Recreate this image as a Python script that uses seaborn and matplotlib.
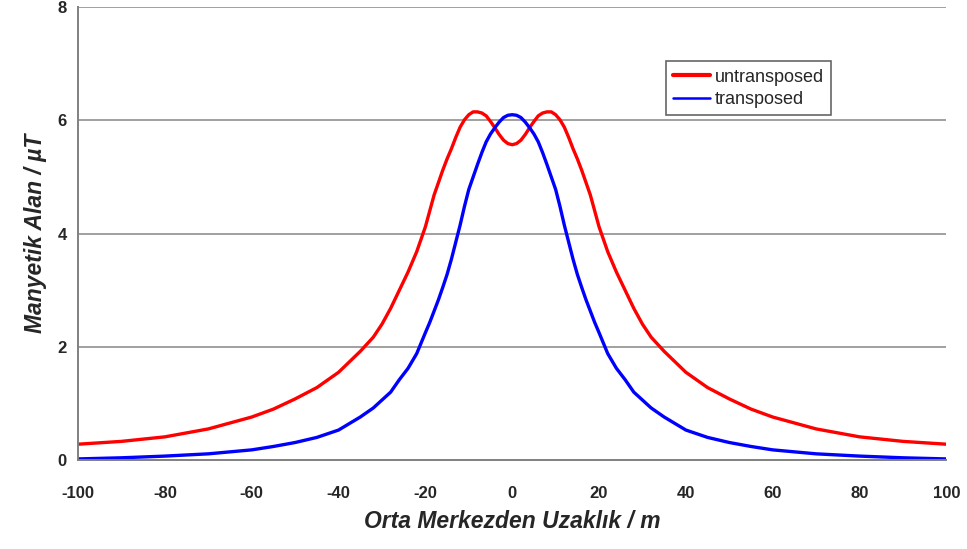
import pandas as pd
from matplotlib import pyplot as plt
import seaborn as sns

# distance from centre (one side, mirrored below)
half_x = [0, 1, 2, 3, 4, 5, 6, 7, 8, 9, 10, 11, 12, 13, 14, 15, 16, 17, 18, 19,
          20, 22, 24, 26, 28, 30, 32, 35, 40, 45, 50, 55, 60, 70, 80, 90, 100]
untransposed_half = [5.57, 5.59, 5.65, 5.75, 5.87, 5.98, 6.08, 6.13, 6.15, 6.15,
                     6.10, 6.01, 5.88, 5.70, 5.50, 5.32, 5.12, 4.90, 4.68, 4.40,
                     4.12, 3.68, 3.32, 3.00, 2.68, 2.40, 2.17, 1.92, 1.55, 1.28,
                     1.08, 0.90, 0.76, 0.55, 0.41, 0.33, 0.28]
transposed_half = [6.10, 6.09, 6.05, 5.97, 5.87, 5.76, 5.62, 5.43, 5.22, 5.00,
                   4.78, 4.48, 4.15, 3.85, 3.55, 3.28, 3.05, 2.83, 2.63, 2.43,
                   2.25, 1.88, 1.62, 1.42, 1.20, 1.06, 0.92, 0.76, 0.53, 0.40,
                   0.31, 0.24, 0.18, 0.11, 0.07, 0.04, 0.02]
series_names = ["untransposed", "transposed"]
x_ticks = [-100, -80, -60, -40, -20, 0, 20, 40, 60, 80, 100]
y_ticks = [0, 2, 4, 6, 8]


def mirror(xs, ys):
    xs_full = [-x for x in xs[:0:-1]] + xs
    ys_full = ys[:0:-1] + ys
    return xs_full, ys_full


def build_frame():
    rows = []
    for name, vals in zip(series_names, [untransposed_half, transposed_half]):
        xs, ys = mirror(half_x, vals)
        rows.append(pd.DataFrame({"x": xs, "y": ys, "series": name}))
    return pd.concat(rows, ignore_index=True)


def main():
    df = build_frame()
    sns.set_style("white")
    plt.rcParams["font.family"] = ["Liberation Sans", "DejaVu Sans"]
    plt.rcParams["axes.unicode_minus"] = False

    my_dpi = 100
    fig = plt.figure(figsize=(967 / my_dpi, 549 / my_dpi), dpi=my_dpi)
    ax = fig.add_axes([0.0807, 0.162, 0.898, 0.825])

    for y in y_ticks[1:]:
        ax.axhline(y, color="#a0a0a0", lw=1.4, zorder=0)

    sns.lineplot(data=df, x="x", y="y", hue="series", palette=["#ff0000", "#0000ff"],
                 sort=False, lw=2.4, ax=ax, legend=False)

    ax.set_xlim(-100, 100)
    ax.set_ylim(0, 8)
    ax.set_xticks(x_ticks)
    ax.set_yticks(y_ticks)
    ax.tick_params(axis="both", direction="out", length=5, width=1, color="#808080",
                   labelsize=12)
    ax.tick_params(axis="x", pad=14)
    ax.tick_params(axis="y", pad=3)
    for lab in ax.get_xticklabels() + ax.get_yticklabels():
        lab.set_fontweight("bold")

    for side in ["top", "right"]:
        ax.spines[side].set_visible(False)
    for side in ["left", "bottom"]:
        ax.spines[side].set_color("#808080")
        ax.spines[side].set_linewidth(1.4)

    ax.set_xlabel("Orta Merkezden Uzaklık / m", fontsize=16.5, fontstyle="italic",
                  fontweight="bold", labelpad=6)
    ax.set_ylabel("Manyetik Alan / µT", fontsize=16.5, fontstyle="italic",
                  fontweight="bold", labelpad=8)

    handles = [plt.Line2D([], [], color="#ff0000", lw=3),
               plt.Line2D([], [], color="#0000ff", lw=1.8)]
    leg = ax.legend(handles, series_names, loc="upper left",
                    bbox_to_anchor=(0.667, 0.9), frameon=True, fancybox=False,
                    fontsize=13, handlelength=2.0, handletextpad=0.3,
                    borderpad=0.4, labelspacing=0.3)
    leg.get_frame().set_edgecolor("#404040")
    leg.get_frame().set_linewidth(1.2)

    plt.savefig("out.png", dpi=my_dpi)


if __name__ == "__main__":
    main()
